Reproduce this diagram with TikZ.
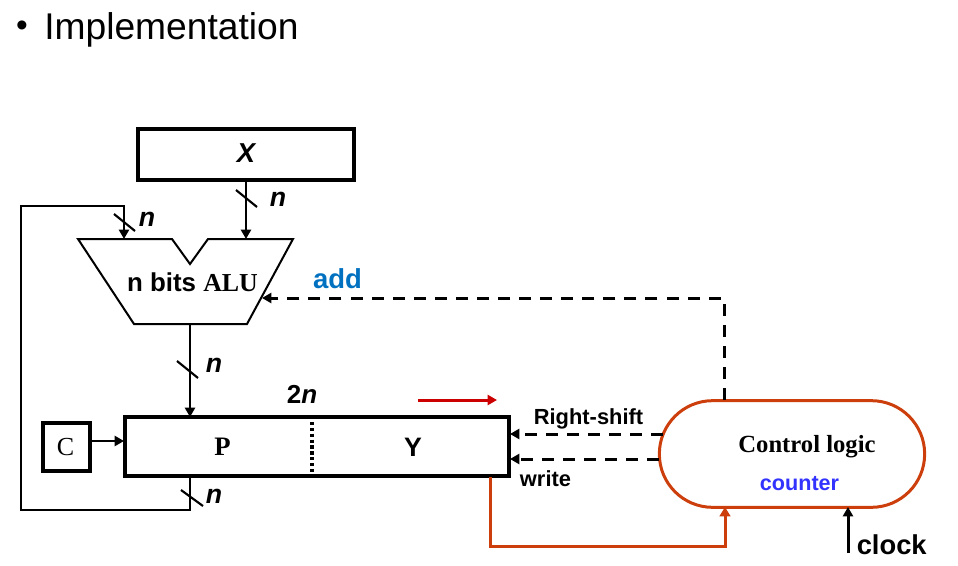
\documentclass[tikz,border=0pt]{standalone}
\usepackage{fontspec}
\setmainfont{Liberation Sans}
\newfontfamily\serifbit{Liberation Serif}
\usetikzlibrary{arrows.meta,shapes.misc}
\newcommand{\pxfont}[1]{\fontsize{#1}{#1}\selectfont}
\definecolor{ctrl}{HTML}{CC3F0C}
\definecolor{addblue}{HTML}{0070C0}
\definecolor{cntblue}{HTML}{3333FF}
\definecolor{shiftred}{HTML}{CC0000}
\tikzset{
  x=0.75pt,y=-0.75pt,
  reg/.style={draw=black,line width=2.8pt,inner sep=0pt,minimum height=40.5pt},
  wire/.style={draw=black,line width=1.9pt},
  arrowwire/.style={wire,-{Triangle[length=7pt,width=7.5pt]}},
  ctlwire/.style={draw=black,line width=2.25pt,dash pattern=on 9pt off 6.8pt,-{Triangle[length=7pt,width=7.5pt]}},
  busslash/.style={draw=black,line width=1.6pt},
  lab/.style={inner sep=0pt,font=\pxfont{20}\bfseries\itshape},
  sig/.style={inner sep=0pt,font=\pxfont{16.4}\bfseries},
}
\begin{document}
\begin{tikzpicture}
\useasboundingbox (0,0) rectangle (958,565);
\node[inner sep=0pt,font=\pxfont{25}] (bul) at (22,29) {•};
\node[inner sep=0pt,anchor=west,font=\pxfont{27.9}] (title) at (44,30) {Implementation};

% X register
\node[reg,minimum width=161.5pt,minimum height=38.5pt,font=\pxfont{20.5}\bfseries\itshape] (X) at (246,154.5) {\raisebox{1.5pt}{X}};

% ALU
\draw[line width=1.5pt,line join=miter,fill=white] (78,239) -- (172,239) -- (190,264) -- (208,239) -- (293,239) -- (247,324) -- (134,324) -- cycle;
\node[inner sep=0pt,font=\pxfont{19.4}\bfseries] (alu) at (192.5,282) {n bits {\serifbit ALU}};
\coordinate (aluA) at (124,239);
\coordinate (aluB) at (246,239);
\coordinate (aluOut) at (190,324);
\coordinate (aluCtl) at (262,298);

% P / Y register
\node[reg,minimum width=288.5pt,minimum height=44pt] (PY) at (317,446.5) {};
\node[inner sep=0pt,font=\pxfont{20}\serifbit\bfseries] (P) at (222.5,447) {P};
\node[inner sep=0pt,font=\pxfont{20}\bfseries] (Y) at (413,447) {Y};
\coordinate (sepT) at (312,422);
\coordinate (sepB) at (312,475);
\draw[line width=3pt,dash pattern=on 2.4pt off 2pt] (sepT) -- (sepB);
\coordinate (pyIn) at (190,417);
\coordinate (pyOut) at (190,477);
\coordinate (pyC) at (124,441);
\coordinate (pyShift) at (510,434);
\coordinate (pyWrite) at (510,459);
\coordinate (pyY) at (490,477);

% C flag
\node[reg,minimum width=35pt,minimum height=36pt,font=\pxfont{19.5}\serifbit] (C) at (66.5,447) {\hspace{-1.5pt}C};

% Control logic
\node[draw=ctrl,line width=2.25pt,rounded rectangle,rounded rectangle arc length=180,minimum width=199pt,minimum height=80pt,inner sep=0pt] (CL) at (792,454) {};
\node[inner sep=0pt,font=\pxfont{18.5}\serifbit\bfseries] (CLt) at (807,447) {Control logic};
\node[inner sep=0pt,text=cntblue,font=\pxfont{16.2}\bfseries] (cnt) at (799.5,484) {counter};
\coordinate (clTop) at (724,400);
\coordinate (clShift) at (663,434);
\coordinate (clWrite) at (659,459);
\coordinate (clY) at (725,507);
\coordinate (clClk) at (848,507);
\coordinate (clkSrc) at (848,553);
\node[inner sep=0pt,anchor=west,font=\pxfont{20.5}\bfseries] (clk) at (856.5,545) {clock};

% Wires
\draw[arrowwire] (X.south -| aluB) -- (aluB);
\coordinate (fb1) at (190,510);
\coordinate (fb2) at (21,510);
\coordinate (fb3) at (21,206);
\coordinate (fb4) at (124,206);
\draw[arrowwire,line join=miter] (pyOut) -- (fb1) -- (fb2) -- (fb3) -- (fb4) -- (aluA);
\draw[arrowwire] (aluOut) -- (pyIn);
\draw[arrowwire] (C.east |- pyC) -- (pyC);

% Bus slashes
\draw[busslash] (236,190) -- (257,207);
\draw[busslash] (114,214) -- (135,231);
\draw[busslash] (177,361) -- (198,378);
\draw[busslash] (181,490) -- (203,506);

% Bus labels
\node[lab] (n1) at (278,199) {n};
\node[lab] (n2) at (147,219) {n};
\node[lab] (n3) at (214,365) {n};
\node[lab] (n4) at (214,496) {n};
\node[inner sep=0pt,font=\pxfont{19.5}\bfseries] (twon) at (302,394) {2\textit{n}};

% Control wires
\coordinate (ctlCorner) at (724,298);
\draw[ctlwire] (clTop) -- (ctlCorner) -- (aluCtl);
\draw[ctlwire] (clShift) -- (pyShift);
\draw[ctlwire] (clWrite) -- (pyWrite);
\node[inner sep=0pt,text=addblue,font=\pxfont{20.6}\bfseries] (add) at (337.5,279) {add};
\node[sig] (rs) at (588.5,419) {Right-shift};
\node[sig] (wr) at (545.5,478.5) {write};

% Y to control
\coordinate (yc1) at (490,546);
\coordinate (yc2) at (725,546);
\draw[draw=ctrl,line width=2.25pt,line join=miter,-{Triangle[length=7pt,width=8pt]}] (pyY) -- (yc1) -- (yc2) -- (clY);

% Clock
\draw[draw=black,line width=2.25pt,-{Triangle[length=7pt,width=7.5pt]}] (clkSrc) -- (clClk);

% Shift direction
\coordinate (sh1) at (418,400);
\coordinate (sh2) at (497,400);
\draw[draw=shiftred,line width=2.25pt,-{Triangle[length=7pt,width=7.5pt]}] (sh1) -- (sh2);
\end{tikzpicture}
\end{document}
